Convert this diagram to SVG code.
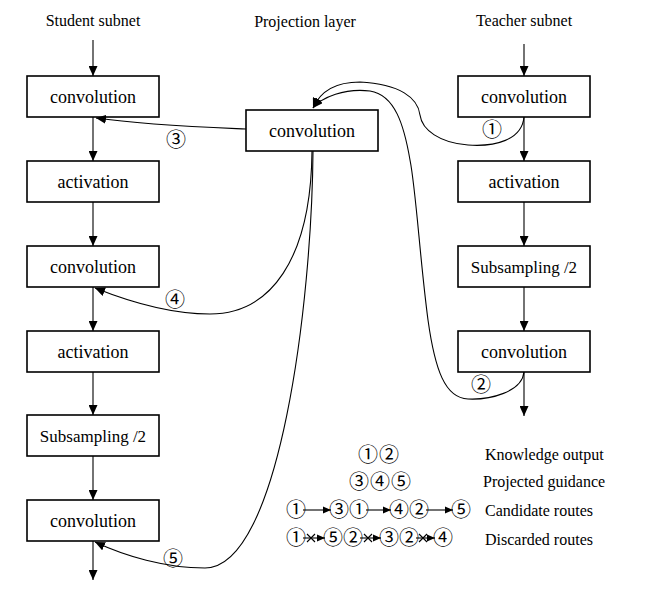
<svg xmlns="http://www.w3.org/2000/svg" width="660" height="598" viewBox="0 0 660 598">
<style>
  .box { fill: #ffffff; stroke: #000000; stroke-width: 1.6; }
  .lbl { font-family: "Liberation Serif", "Times New Roman", serif; font-size: 18px; fill: #000000; text-anchor: middle; }
  .lbl2 { font-family: "Liberation Serif", "Times New Roman", serif; font-size: 17px; fill: #000000; text-anchor: middle; }
  .title { font-family: "Liberation Serif", "Times New Roman", serif; font-size: 16px; fill: #000000; text-anchor: middle; }
  .leg { font-family: "Liberation Serif", "Times New Roman", serif; font-size: 16px; fill: #000000; }
  .num { font-family: "Liberation Serif", "DejaVu Serif", "Noto Sans CJK SC", serif; font-size: 20px; fill: #000000; text-anchor: middle; }
  .edge { fill: none; stroke: #000000; stroke-width: 1.1; }
</style>
<defs>
  <marker id="arr" markerUnits="userSpaceOnUse" markerWidth="11" markerHeight="9" refX="10" refY="4.5" orient="auto">
    <path d="M0,0 L10,4.5 L0,9 z" fill="#000000"/>
  </marker>
  <marker id="arrs" markerUnits="userSpaceOnUse" markerWidth="9" markerHeight="8" refX="8.5" refY="3.75" orient="auto">
    <path d="M0,0 L8.5,3.75 L0,7.5 z" fill="#000000"/>
  </marker>
</defs>
<rect width="660" height="598" fill="#ffffff"/>

<g id="titles">
  <text class="title" x="93" y="26">Student subnet</text>
  <text class="title" x="305" y="27">Projection layer</text>
  <text class="title" x="524" y="26">Teacher subnet</text>
</g>

<g id="s1"><rect class="box" x="27" y="76" width="132" height="41"/><text class="lbl" x="93" y="103">convolution</text></g>
<g id="s2"><rect class="box" x="27" y="161" width="132" height="41"/><text class="lbl" x="93" y="188">activation</text></g>
<g id="s3"><rect class="box" x="27" y="246" width="132" height="41"/><text class="lbl" x="93" y="273">convolution</text></g>
<g id="s4"><rect class="box" x="27" y="331" width="132" height="41"/><text class="lbl" x="93" y="358">activation</text></g>
<g id="s5"><rect class="box" x="27" y="415" width="132" height="41"/><text class="lbl2" x="93" y="442">Subsampling /2</text></g>
<g id="s6"><rect class="box" x="27" y="500" width="132" height="41"/><text class="lbl" x="93" y="527">convolution</text></g>

<g id="p1"><rect class="box" x="246" y="110" width="132" height="41"/><text class="lbl" x="312" y="137">convolution</text></g>

<g id="t1"><rect class="box" x="458" y="76" width="132" height="41"/><text class="lbl" x="524" y="103">convolution</text></g>
<g id="t2"><rect class="box" x="458" y="161" width="132" height="41"/><text class="lbl" x="524" y="188">activation</text></g>
<g id="t3"><rect class="box" x="458" y="246" width="132" height="41"/><text class="lbl2" x="524" y="273">Subsampling /2</text></g>
<g id="t4"><rect class="box" x="458" y="331" width="132" height="41"/><text class="lbl" x="524" y="358">convolution</text></g>

<g id="connectors">
  <line class="edge" x1="93" y1="40" x2="93" y2="76" marker-end="url(#arr)"/>
  <line class="edge" x1="93" y1="117" x2="93" y2="161" marker-end="url(#arr)"/>
  <line class="edge" x1="93" y1="202" x2="93" y2="246" marker-end="url(#arr)"/>
  <line class="edge" x1="93" y1="287" x2="93" y2="331" marker-end="url(#arr)"/>
  <line class="edge" x1="93" y1="372" x2="93" y2="415" marker-end="url(#arr)"/>
  <line class="edge" x1="93" y1="456" x2="93" y2="500" marker-end="url(#arr)"/>
  <line class="edge" x1="93" y1="541" x2="93" y2="580" marker-end="url(#arr)"/>

  <line class="edge" x1="524" y1="44" x2="524" y2="76" marker-end="url(#arr)"/>
  <line class="edge" x1="524" y1="117" x2="524" y2="161" marker-end="url(#arr)"/>
  <line class="edge" x1="524" y1="202" x2="524" y2="246" marker-end="url(#arr)"/>
  <line class="edge" x1="524" y1="287" x2="524" y2="331" marker-end="url(#arr)"/>
  <line class="edge" x1="524" y1="372" x2="524" y2="416" marker-end="url(#arr)"/>

  <path class="edge" d="M246,129 C200,127 145,125 96,118" marker-end="url(#arr)"/>
  <path class="edge" d="M312,151 C311,260 270,314 210,314 C170,314 130,302 95,288" marker-end="url(#arr)"/>
  <path class="edge" d="M313,151 C312,300 280,568 205,568 C165,568 125,556 95,542" marker-end="url(#arr)"/>
  <path class="edge" d="M524,117 C522,140 495,147 468,145 C440,143 422,130 420,115 C418,98 400,84 360,82 C335,82 320,92 313,108" marker-end="url(#arr)"/>
  <path class="edge" d="M524,372 C522,392 490,400 468,399 C445,398 435,370 428,320 C420,260 416,190 410,160 C404,125 395,95 370,91 C345,88 322,97 313,108" marker-end="url(#arr)"/>
</g>

<g id="route-labels">
  <text class="num" x="176" y="147">③</text>
  <text class="num" x="175" y="307">④</text>
  <text class="num" x="173" y="566">⑤</text>
  <text class="num" x="492" y="137">①</text>
  <text class="num" x="481" y="392">②</text>
</g>

<g id="legend">
  <text class="num" x="368" y="462">①</text>
  <text class="num" x="389" y="462">②</text>
  <text class="num" x="359" y="489">③</text>
  <text class="num" x="380" y="489">④</text>
  <text class="num" x="401" y="489">⑤</text>

  <text class="num" x="296" y="517">①</text>
  <line class="edge" x1="303" y1="510" x2="331" y2="510" marker-end="url(#arrs)"/>
  <text class="num" x="339" y="517">③</text>
  <text class="num" x="359" y="517">①</text>
  <line class="edge" x1="366" y1="510" x2="391" y2="510" marker-end="url(#arrs)"/>
  <text class="num" x="399" y="517">④</text>
  <text class="num" x="419" y="517">②</text>
  <line class="edge" x1="426" y1="510" x2="453" y2="510" marker-end="url(#arrs)"/>
  <text class="num" x="461" y="517">⑤</text>

  <text class="num" x="296" y="545">①</text>
  <line class="edge" x1="303" y1="538" x2="325" y2="538" marker-end="url(#arrs)"/>
  <path class="edge" d="M307,534 L315,542 M315,534 L307,542"/>
  <text class="num" x="333" y="545">⑤</text>
  <text class="num" x="353" y="545">②</text>
  <line class="edge" x1="360" y1="538" x2="381" y2="538" marker-end="url(#arrs)"/>
  <path class="edge" d="M364,534 L372,542 M372,534 L364,542"/>
  <text class="num" x="389" y="545">③</text>
  <text class="num" x="409" y="545">②</text>
  <line class="edge" x1="416" y1="538" x2="435" y2="538" marker-end="url(#arrs)"/>
  <path class="edge" d="M419,534 L427,542 M427,534 L419,542"/>
  <text class="num" x="443" y="545">④</text>

  <text class="leg" x="485" y="460">Knowledge output</text>
  <text class="leg" x="483" y="487">Projected guidance</text>
  <text class="leg" x="485" y="516">Candidate routes</text>
  <text class="leg" x="485" y="545">Discarded routes</text>
</g>
</svg>
